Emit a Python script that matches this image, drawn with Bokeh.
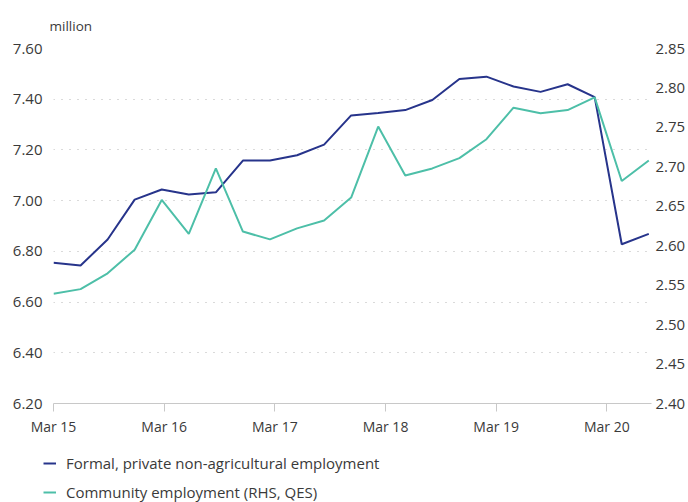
from bokeh.plotting import figure
from bokeh.models import (ColumnDataSource, Range1d, LinearAxis, FixedTicker,
                          NumeralTickFormatter, Legend, LegendItem, Title)
from bokeh.embed import file_html
from bokeh.resources import INLINE

# Quarterly observations, Mar 15 .. Jun 20
quarters = list(range(23))
formal = [6.755, 6.744, 6.847, 7.004, 7.044, 7.024, 7.033, 7.158, 7.158, 7.179,
          7.221, 7.336, 7.346, 7.357, 7.397, 7.480, 7.489, 7.450, 7.429, 7.459,
          7.408, 6.828, 6.869]
community = [2.539, 2.545, 2.565, 2.595, 2.658, 2.615, 2.698, 2.618, 2.608, 2.622,
             2.632, 2.661, 2.751, 2.689, 2.698, 2.711, 2.735, 2.775, 2.768, 2.772,
             2.788, 2.682, 2.708]
series_names = ["Formal, private non-agricultural employment",
                "Community employment (RHS, QES)"]
year_labels = ["Mar 15", "Mar 16", "Mar 17", "Mar 18", "Mar 19", "Mar 20"]
left_ticks = [6.20, 6.40, 6.60, 6.80, 7.00, 7.20, 7.40, 7.60]
right_ticks = [2.40, 2.45, 2.50, 2.55, 2.60, 2.65, 2.70, 2.75, 2.80, 2.85]

NAVY = "#27348b"
TEAL = "#4dbfa8"
TXT = "#3a3a3a"
FONT = "Open Sans"

src = ColumnDataSource(dict(q=quarters, formal=formal, community=community))

p = figure(width=688, height=440, output_backend="svg", toolbar_location=None,
           x_range=Range1d(0, 22.1), y_range=Range1d(left_ticks[0], left_ticks[-1]),
           min_border_left=53, min_border_right=35, min_border_top=48,
           min_border_bottom=37, outline_line_color=None)
p.extra_y_ranges = {"rhs": Range1d(right_ticks[0], right_ticks[-1])}

# ticks on the x axis sit one "year step" apart (slightly wider than 4 quarters in the source)
step = 4.09
tick_pos = [i * step for i in range(len(year_labels))]
p.xaxis.ticker = FixedTicker(ticks=tick_pos)
p.xaxis.major_label_overrides = {t: l for t, l in zip(tick_pos, year_labels)}
p.xaxis.axis_line_color = "#c8c8c8"
p.xaxis.major_tick_line_color = "#c8c8c8"
p.xaxis.major_tick_out = 8
p.xaxis.major_tick_in = 0
p.xaxis.minor_tick_line_color = None
p.xaxis.major_label_standoff = 5
p.xaxis.major_label_text_font = FONT
p.xaxis.major_label_text_font_size = "14px"
p.xaxis.major_label_text_color = TXT

p.yaxis.ticker = FixedTicker(ticks=left_ticks)
p.yaxis.formatter = NumeralTickFormatter(format="0.00")
p.yaxis.axis_line_color = None
p.yaxis.major_tick_line_color = None
p.yaxis.major_tick_out = 0
p.yaxis.major_tick_in = 0
p.yaxis.minor_tick_line_color = None
p.yaxis.major_label_standoff = 11
p.yaxis.major_label_text_font = FONT
p.yaxis.major_label_text_font_size = "15px"
p.yaxis.major_label_text_color = TXT

ra = LinearAxis(y_range_name="rhs", ticker=FixedTicker(ticks=right_ticks),
                formatter=NumeralTickFormatter(format="0.00"))
ra.axis_line_color = None
ra.major_tick_line_color = None
ra.major_tick_out = 0
ra.major_tick_in = 0
ra.minor_tick_line_color = None
ra.major_label_standoff = 4
ra.major_label_text_font = FONT
ra.major_label_text_font_size = "15px"
ra.major_label_text_color = TXT
p.add_layout(ra, "right")

p.xgrid.grid_line_color = None
p.ygrid.grid_line_color = "#b5b5b5"
p.ygrid.grid_line_dash = "1 7"
p.ygrid.grid_line_width = 1

p.line("q", "formal", source=src, line_color=NAVY, line_width=2)
p.line("q", "community", source=src, line_color=TEAL, line_width=2,
       y_range_name="rhs")

p.add_layout(Title(text="million", align="left", offset=-4, standoff=27,
                   text_font=FONT, text_font_size="13.5px", text_font_style="normal",
                   text_color=TXT), "above")

# legend strip below the chart (its series lie outside its empty view)
lg = figure(width=688, height=62, output_backend="svg", toolbar_location=None,
            x_range=Range1d(100, 101), y_range=Range1d(100, 101),
            x_axis_type=None, y_axis_type=None, min_border=0,
            min_border_left=0, min_border_right=0, min_border_top=0,
            min_border_bottom=0, outline_line_color=None)
lg.grid.visible = False
k1 = lg.line("q", "formal", source=src, line_color=NAVY, line_width=2)
k2 = lg.line("q", "community", source=src, line_color=TEAL, line_width=2)
legend = Legend(items=[LegendItem(label=series_names[0], renderers=[k1]),
                       LegendItem(label=series_names[1], renderers=[k2])],
                location=(43, 0), orientation="vertical", padding=0, margin=0,
                spacing=9, glyph_width=13, glyph_height=16, label_height=16,
                label_standoff=10, border_line_color=None, background_fill_alpha=0,
                label_text_font=FONT, label_text_font_size="15px",
                label_text_color=TXT)
lg.add_layout(legend, "center")

open("out.html", "w").write(file_html([p, lg], INLINE))
